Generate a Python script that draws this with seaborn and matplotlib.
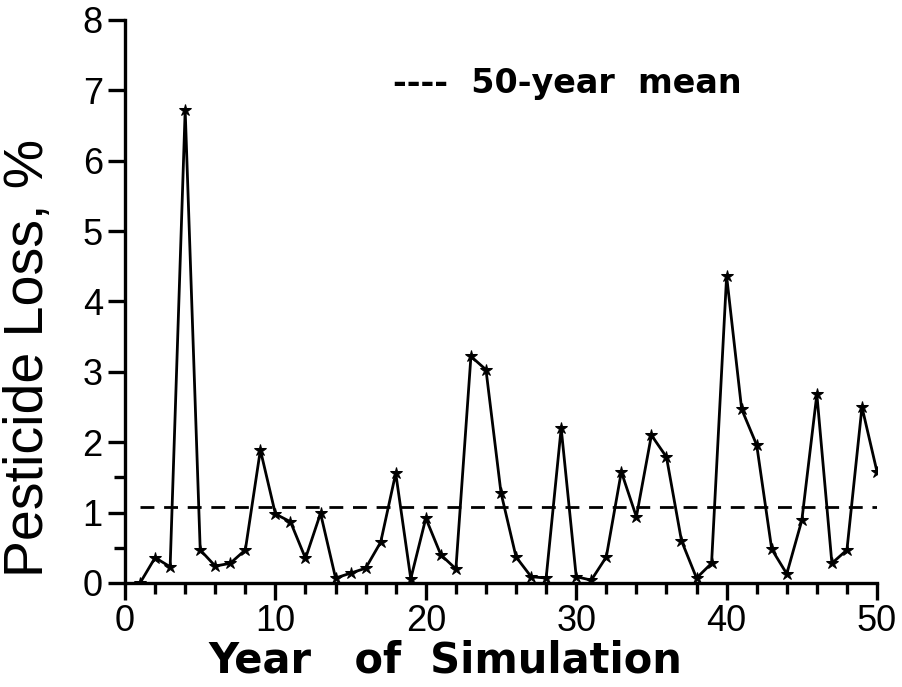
import numpy as np
import pandas as pd
import matplotlib
matplotlib.use("Agg")
import matplotlib.pyplot as plt
from matplotlib.ticker import MultipleLocator, FixedLocator
import seaborn as sns

years = list(range(1, 51))
loss = [0.00, 0.36, 0.23, 6.72, 0.47, 0.24, 0.28, 0.47, 1.89, 0.98,
        0.87, 0.35, 0.99, 0.07, 0.14, 0.21, 0.58, 1.56, 0.06, 0.92,
        0.40, 0.20, 3.22, 3.03, 1.28, 0.37, 0.09, 0.07, 2.20, 0.09,
        0.04, 0.37, 1.58, 0.94, 2.10, 1.79, 0.60, 0.07, 0.28, 4.36,
        2.47, 1.96, 0.48, 0.13, 0.89, 2.68, 0.28, 0.47, 2.50, 1.58]
mean_value = 1.08
mean_span = [1, 50]
y_ticks = [0, 1, 2, 3, 4, 5, 6, 7, 8]
x_ticks = [0, 10, 20, 30, 40, 50]

sns.set_style("ticks")
plt.rcParams['font.family'] = ['Liberation Sans', 'DejaVu Sans']
plt.rcParams['text.color'] = 'black'
plt.rcParams['axes.labelcolor'] = 'black'

df = pd.DataFrame({"Year": years, "Loss": loss})

fig = plt.figure(figsize=(9.02, 6.87), dpi=100)
ax = fig.add_axes([0.1386, 0.1514, 0.8337, 0.8196])

sns.lineplot(data=df, x="Year", y="Loss", ax=ax, color="black", linewidth=2.0,
             marker="*", markersize=9, markeredgecolor="black", markerfacecolor="black")
ax.plot(mean_span, [mean_value, mean_value], color="black", linewidth=2.0,
        linestyle=(0, (5, 3.5)))

ax.set_xlim(0, 50)
ax.set_ylim(0, 8)
ax.xaxis.set_major_locator(FixedLocator(x_ticks))
ax.xaxis.set_minor_locator(MultipleLocator(2))
ax.yaxis.set_major_locator(FixedLocator(y_ticks))
ax.yaxis.set_minor_locator(FixedLocator([0.5, 1.5]))

for s in ["top", "right"]:
    ax.spines[s].set_visible(False)
for s in ["left", "bottom"]:
    ax.spines[s].set_linewidth(2.4)
    ax.spines[s].set_color("black")

ax.tick_params(axis="both", which="major", length=12, width=2.4, colors="black",
               labelsize=26, pad=4)
ax.tick_params(axis="x", which="major", pad=3)
ax.tick_params(axis="both", which="minor", length=8, width=2.4, colors="black")

ax.set_xlabel("Year   of  Simulation", fontsize=30, fontweight="bold",
              family=["DejaVu Sans"])
ax.xaxis.set_label_coords(0.426, -0.1005)
ax.set_ylabel("Pesticide Loss, %", fontsize=40, fontweight="light")
ax.yaxis.set_label_coords(-0.093, 0.40)

ax.annotate("----  50-year  mean", xy=(393 / 902, 1 - 84 / 687), xycoords="figure fraction",
            fontsize=24, fontweight="bold", ha="left", va="center",
            family=["DejaVu Sans"])

fig.savefig("out.png", dpi=100)
